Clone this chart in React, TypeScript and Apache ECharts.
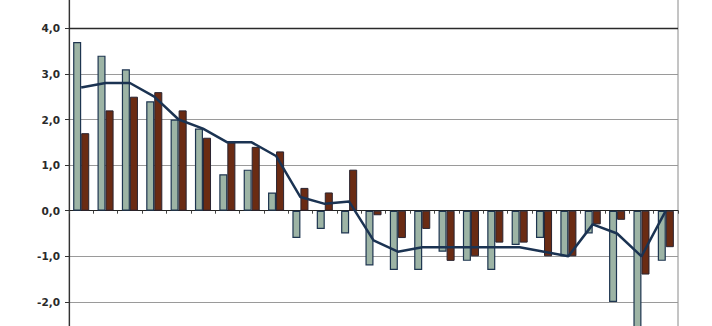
import React, { useEffect, useRef } from "react";
import * as echarts from "echarts";

const categories = [
  "1", "2", "3", "4", "5", "6", "7", "8", "9", "10", "11", "12", "13",
  "14", "15", "16", "17", "18", "19", "20", "21", "22", "23", "24", "25",
];
const seriesA = [
  3.7, 3.4, 3.1, 2.4, 2.0, 1.8, 0.8, 0.9, 0.4, -0.6, -0.4, -0.5, -1.2,
  -1.3, -1.3, -0.9, -1.1, -1.3, -0.75, -0.6, -1.0, -0.5, -2.0, -2.8, -1.1,
];
const seriesB = [
  1.7, 2.2, 2.5, 2.6, 2.2, 1.6, 1.5, 1.4, 1.3, 0.5, 0.4, 0.9, -0.1,
  -0.6, -0.4, -1.1, -1.0, -0.7, -0.7, -1.0, -1.0, -0.3, -0.2, -1.4, -0.8,
];
const seriesLine = [
  2.7, 2.8, 2.8, 2.5, 2.0, 1.8, 1.5, 1.5, 1.2, 0.3, 0.15, 0.2, -0.65,
  -0.9, -0.8, -0.8, -0.8, -0.8, -0.8, -0.9, -1.0, -0.3, -0.5, -1.0, 0.0,
];
const yMin = -3;
const yMax = 5;
const yInterval = 1;

export default function App() {
  const ref = useRef<HTMLDivElement>(null);
  useEffect(() => {
    if (!ref.current) return;
    const chart = echarts.init(ref.current, null, { renderer: "svg" });
    chart.setOption({
      animation: false,
      backgroundColor: "#ffffff",
      grid: {
        left: 69,
        right: 34,
        top: -17.3,
        bottom: -21.5,
        containLabel: false,
        outerBoundsMode: "none",
        show: true,
        borderColor: "#8a8a8a",
        borderWidth: 1,
        backgroundColor: "transparent",
      },
      xAxis: {
        type: "category",
        data: categories,
        axisLine: { onZero: true, lineStyle: { color: "#222", width: 1.2 } },
        axisTick: { show: true, length: 3, lineStyle: { color: "#444" } },
        axisLabel: { show: false },
        splitLine: { show: false },
      },
      yAxis: {
        type: "value",
        min: yMin,
        max: yMax,
        interval: yInterval,
        axisLine: { show: true, lineStyle: { color: "#333", width: 1.2 } },
        axisTick: { show: true, length: 4, lineStyle: { color: "#333" } },
        axisLabel: {
          margin: 9,
          showMinLabel: false,
          showMaxLabel: false,
          fontFamily: "DejaVu Sans",
          fontWeight: "bold",
          fontSize: 10.5,
          color: "#2a2a2a",
          formatter: (v: number) => v.toFixed(1).replace(".", ","),
        },
        splitLine: { show: true, lineStyle: { color: "#9a9a9a", width: 1.2 } },
      },
      series: [
        {
          type: "bar",
          data: seriesA,
          barGap: "0%",
          barCategoryGap: "34%",
          itemStyle: { color: "#9db4a5", borderColor: "#1e3550", borderWidth: 1.2 },
          markLine: {
            silent: true,
            symbol: "none",
            label: { show: false },
            lineStyle: { color: "#2a2a2a", type: "solid", width: 1.3 },
            data: [{ yAxis: 4 }],
          },
        },
        {
          type: "bar",
          data: seriesB,
          itemStyle: { color: "#6a2b13", borderColor: "#2a2430", borderWidth: 1 },
        },
        {
          type: "line",
          data: seriesLine,
          symbol: "none",
          lineStyle: { color: "#1b3352", width: 2.5 },
          z: 5,
        },
      ],
    });
    return () => chart.dispose();
  }, []);
  return (
    <div
      ref={ref}
      style={{ position: "absolute", left: 0, top: 0, width: 712, height: 326 }}
    />
  );
}
